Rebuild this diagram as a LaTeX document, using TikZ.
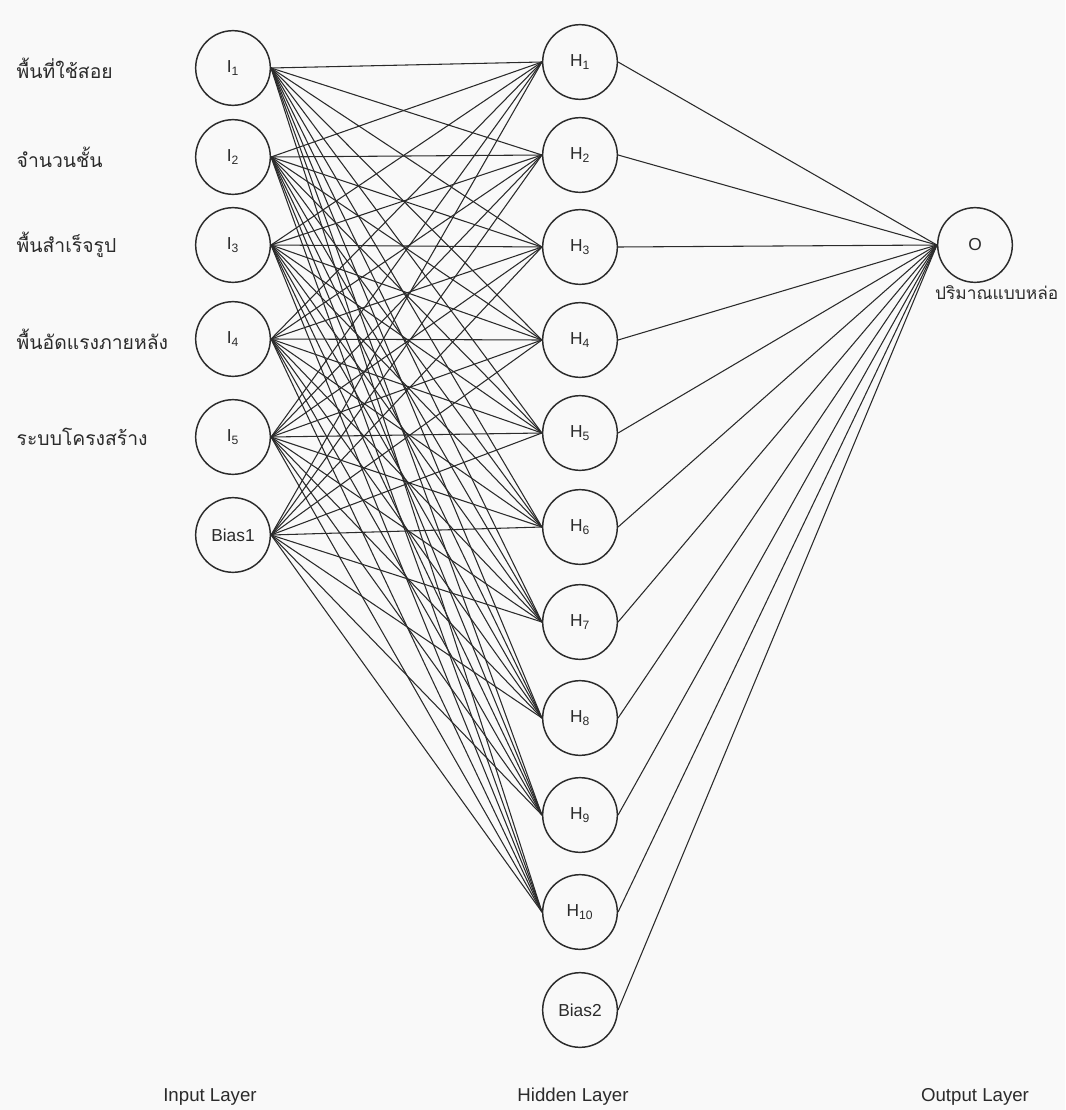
\documentclass[tikz,border=0pt]{standalone}
\usepackage{fontspec}
\setmainfont{Liberation Sans}
\newfontfamily\thaifont[Script=Thai]{Loma}
\usetikzlibrary{positioning}
\definecolor{ink}{HTML}{2B2B2B}
\definecolor{paper}{HTML}{F9F9F9}

\begin{document}
\begin{tikzpicture}[
 x=.75pt,y=-.75pt,font=\fontsize{13}{15}\selectfont,text=ink,
 neuron/.style={circle,draw=ink,fill=paper,line width=1.1pt,minimum size=56pt,inner sep=0pt},
 link/.style={draw=ink,line width=.8pt},
 thai/.style={font=\thaifont\fontsize{14.5}{16}\selectfont,anchor=west},
 layer/.style={font=\fontsize{14}{16}\selectfont}
]
\fill[paper] (0,0) rectangle (1065,1110);
\useasboundingbox (0,0) rectangle (1065,1110);

% input layer
\node[neuron] (i1) at (233,68) {I\textsubscript{1}};
\node[neuron] (i2) at (233,157) {I\textsubscript{2}};
\node[neuron] (i3) at (233,245) {I\textsubscript{3}};
\node[neuron] (i4) at (233,339) {I\textsubscript{4}};
\node[neuron] (i5) at (233,437) {I\textsubscript{5}};
\node[neuron] (b1) at (233,535) {Bias1};
\node[thai] (t1) at (12,68) {พื้นที่ใช้สอย};
\node[thai] (t2) at (12,157) {จำนวนชั้น};
\node[thai] (t3) at (12,245) {พื้นสำเร็จรูป};
\node[thai] (t4) at (12,339) {พื้นอัดแรงภายหลัง};
\node[thai] (t5) at (12,437) {ระบบโครงสร้าง};

% hidden layer
\node[neuron] (h1) at (580,62) {H\textsubscript{1}};
\node[neuron] (h2) at (580,155) {H\textsubscript{2}};
\node[neuron] (h3) at (580,247) {H\textsubscript{3}};
\node[neuron] (h4) at (580,340) {H\textsubscript{4}};
\node[neuron] (h5) at (580,433) {H\textsubscript{5}};
\node[neuron] (h6) at (580,527) {H\textsubscript{6}};
\node[neuron] (h7) at (580,622) {H\textsubscript{7}};
\node[neuron] (h8) at (580,718) {H\textsubscript{8}};
\node[neuron] (h9) at (580,815) {H\textsubscript{9}};
\node[neuron] (h10) at (580,912) {H\textsubscript{10}};
\node[neuron] (b2) at (580,1010) {Bias2};

% output layer
\node[neuron] (o) at (975,245) {O};
\node[thai,font=\thaifont\fontsize{13}{15}\selectfont,anchor=east] (to) at (1063,293) {ปริมาณแบบหล่อ};

\foreach \a in {i1,i2,i3,i4,i5,b1}
  \foreach \b in {1,...,10}
    \draw[link] (\a.east) -- (h\b.west);
\foreach \b in {h1,h2,h3,h4,h5,h6,h7,h8,h9,h10,b2}
  \draw[link] (\b.east) -- (o.west);

\node[layer] (li) at (210,1097) {Input Layer};
\node[layer] (lh) at (573,1097) {Hidden Layer};
\node[layer] (lo) at (975,1097) {Output Layer};
\end{tikzpicture}
\end{document}
